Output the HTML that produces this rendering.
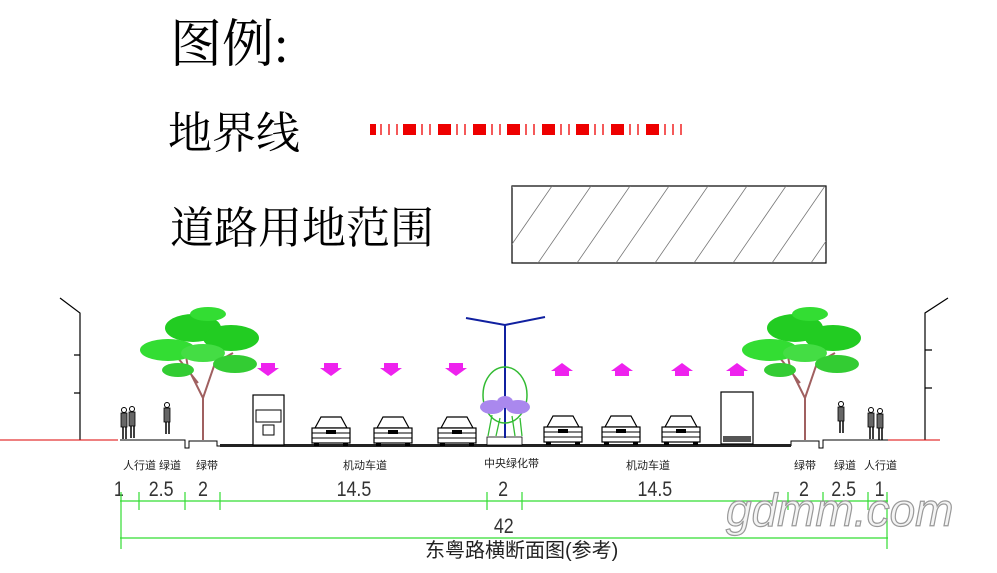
<!DOCTYPE html>
<html><head><meta charset="utf-8"><style>
html,body{margin:0;padding:0;background:#fff;}
svg{display:block;}
.serif{font-family:"Liberation Serif","Noto Serif CJK SC","Noto Sans CJK SC",serif;}
.sans{font-family:"Liberation Sans","Noto Sans CJK SC",sans-serif;}
</style></head><body>
<svg width="997" height="573" viewBox="0 0 997 573" xmlns="http://www.w3.org/2000/svg">
<defs>
<clipPath id="hc"><rect x="512" y="186" width="314" height="77"/></clipPath>
<g id="car">
<path d="M4 14 L10 3 L30 3 L36 14 Z" fill="#fff" stroke="#000" stroke-width="1.2"/>
<rect x="1" y="14" width="38" height="15" fill="#fff" stroke="#000" stroke-width="1.2"/>
<line x1="1" y1="19" x2="39" y2="19" stroke="#000"/><line x1="1" y1="24" x2="39" y2="24" stroke="#000"/>
<rect x="15" y="16" width="10" height="4" fill="#000"/>
<rect x="3" y="29" width="5" height="3" fill="#000"/><rect x="32" y="29" width="5" height="3" fill="#000"/>
</g>
<g id="tree">
<path d="M0 132 L0 90 L-15 60 M0 90 L12 55 L20 35 M-5 75 L-25 50 M12 55 L30 45 M-15 60 L-20 30" stroke="#a06060" stroke-width="2" fill="none"/>
<ellipse cx="-10" cy="20" rx="28" ry="14" fill="#22cc22"/>
<ellipse cx="-35" cy="42" rx="28" ry="11" fill="#33dd33"/>
<ellipse cx="28" cy="30" rx="28" ry="13" fill="#22cc22"/>
<ellipse cx="0" cy="45" rx="22" ry="9" fill="#44dd44"/>
<ellipse cx="32" cy="56" rx="22" ry="9" fill="#33cc33"/>
<ellipse cx="-25" cy="62" rx="16" ry="7" fill="#33cc33"/>
<ellipse cx="5" cy="6" rx="18" ry="7" fill="#33dd33"/>
</g>
<g id="ped">
<circle cx="4" cy="3" r="2.5" fill="#fff" stroke="#000"/><rect x="1" y="6" width="6" height="14" fill="#666" stroke="#000" stroke-width=".8"/><line x1="3" y1="20" x2="3" y2="32" stroke="#000" stroke-width="1.5"/><line x1="6" y1="20" x2="6" y2="32" stroke="#000" stroke-width="1.5"/>
</g>
<path id="dn" d="M-7 0h14v5h4l-11 8l-11-8h4z"/>
<path id="up" d="M-7 13h14v-5h4l-11-8l-11 8h4z"/>
</defs>

<!-- legend -->
<text class="serif" x="170" y="62" font-size="52">图例:</text>
<text class="serif" x="168" y="148" font-size="44">地界线</text>
<text class="serif" x="170" y="243" font-size="44">道路用地范围</text>
<g fill="#e00">
<rect x="370" y="124" width="6" height="11"/>
<rect x="403" y="124" width="13" height="11"/><rect x="438" y="124" width="13" height="11"/><rect x="473" y="124" width="13" height="11"/><rect x="507" y="124" width="13" height="11"/><rect x="542" y="124" width="13" height="11"/><rect x="576" y="124" width="13" height="11"/><rect x="611" y="124" width="13" height="11"/><rect x="646" y="124" width="13" height="11"/>
</g>
<g stroke="#e00" stroke-width="1.3">
<path d="M381 124v11M389 124v11M397 124v11M422 124v11M430 124v11M457 124v11M465 124v11M492 124v11M500 124v11M526 124v11M534 124v11M561 124v11M569 124v11M595 124v11M603 124v11M630 124v11M638 124v11M665 124v11M673 124v11M681 124v11"/>
</g>
<rect x="512" y="186" width="314" height="77" fill="#fff" stroke="#000" stroke-width="1.2"/>
<g clip-path="url(#hc)" stroke="#777" stroke-width="0.8">
<path d="M460 263L513 186M499 263L552 186M538 263L591 186M577 263L630 186M616 263L669 186M655 263L708 186M694 263L747 186M733 263L786 186M772 263L825 186M811 263L864 186M850 263L903 186"/>
</g>

<!-- buildings -->
<path d="M60 298 L80 313 L80 440 M80 355 L74 355 M80 393 L74 393" stroke="#000" fill="none" stroke-width="1.2"/>
<path d="M948 298 L925 313 L925 440 M925 350 L932 350 M925 388 L932 388" stroke="#000" fill="none" stroke-width="1.2"/>
<line x1="0" y1="440" x2="118" y2="440" stroke="#d00" stroke-width="1"/>
<line x1="888" y1="440" x2="940" y2="440" stroke="#d00" stroke-width="1"/>
<path d="M120 440 L185 440 L185 448 L189 448 L189 441 L217 441 L217 446 L220 446" stroke="#000" fill="none" stroke-width="1"/>
<path d="M888 440 L823 440 L823 448 L819 448 L819 441 L791 441 L791 446" stroke="#000" fill="none" stroke-width="1"/>
<rect x="220" y="444" width="571" height="3" fill="#222"/>
<rect x="487" y="437" width="35" height="8" fill="#fff" stroke="#000" stroke-width=".8"/>

<use href="#tree" x="203" y="308"/>
<use href="#tree" x="805" y="308"/>
<path d="M505 438 L505 325 M466 318 L505 325 L545 317" stroke="#1020a0" stroke-width="2" fill="none"/>
<ellipse cx="505" cy="395" rx="22" ry="28" fill="none" stroke="#33bb33" stroke-width="1.5"/>
<ellipse cx="492" cy="407" rx="12" ry="7" fill="#aa88ee"/><ellipse cx="518" cy="407" rx="12" ry="7" fill="#aa88ee"/><ellipse cx="505" cy="402" rx="8" ry="6" fill="#aa88ee"/>
<path d="M488 436 L492 415 M496 436 L500 418 M515 436 L512 416 M522 436 L520 418" stroke="#33bb33" stroke-width="1.3"/>

<use href="#ped" x="120" y="407"/><use href="#ped" x="128" y="406"/>
<use href="#ped" x="163" y="402"/>
<use href="#ped" x="837" y="401"/>
<use href="#ped" x="867" y="407"/><use href="#ped" x="876" y="408"/>

<rect x="253" y="395" width="31" height="50" fill="#fff" stroke="#000" stroke-width="1.2"/>
<rect x="256" y="410" width="25" height="12" fill="#fff" stroke="#000"/><rect x="263" y="425" width="11" height="10" fill="#fff" stroke="#000"/>
<rect x="721" y="392" width="32" height="52" fill="#fff" stroke="#000" stroke-width="1.2"/>
<rect x="723" y="436" width="28" height="6" fill="#555"/>
<use href="#car" x="311" y="414"/><use href="#car" x="373" y="414"/><use href="#car" x="437" y="414"/>
<use href="#car" x="543" y="413"/><use href="#car" x="601" y="413"/><use href="#car" x="661" y="413"/>

<g fill="#ee22ee">
<use href="#dn" x="268" y="363"/><use href="#dn" x="331" y="363"/><use href="#dn" x="391" y="363"/><use href="#dn" x="456" y="363"/>
<use href="#up" x="562" y="363"/><use href="#up" x="622" y="363"/><use href="#up" x="682" y="363"/><use href="#up" x="737" y="363"/>
</g>

<g class="sans" font-size="11" fill="#222">
<text x="123" y="469">人行道</text><text x="159" y="469">绿道</text><text x="196" y="469">绿带</text>
<text x="343" y="469">机动车道</text><text x="484" y="467">中央绿化带</text><text x="626" y="469">机动车道</text>
<text x="794" y="469">绿带</text><text x="834" y="469">绿道</text><text x="864" y="469">人行道</text>
</g>
<g class="sans" font-size="21" fill="#333" transform="scale(0.85,1)">
<text x="134" y="496">1</text><text x="175" y="496">2.5</text><text x="233" y="496">2</text>
<text x="396" y="496">14.5</text><text x="586" y="496">2</text><text x="750" y="496">14.5</text>
<text x="940" y="496">2</text><text x="978" y="496">2.5</text><text x="1029" y="496">1</text>
<text x="581" y="533">42</text>
</g>
<g stroke="#33dd33" stroke-width="1.2">
<line x1="120" y1="501" x2="888" y2="501"/><line x1="120" y1="538" x2="888" y2="538"/>
<path d="M121 492v57M139 492v18M185 492v18M220 492v18M487 492v18M522 492v18M788 492v18M823 492v18M868 492v18M887 492v57"/>
</g>
<text class="sans" x="425" y="557" font-size="20" fill="#222">东粤路横断面图(参考)</text>
<text class="sans" x="726" y="526" font-size="46" font-style="italic" fill="#f4f4f4" stroke="#999" stroke-width="1.2">gdmm.com</text>
</svg>
</body></html>
